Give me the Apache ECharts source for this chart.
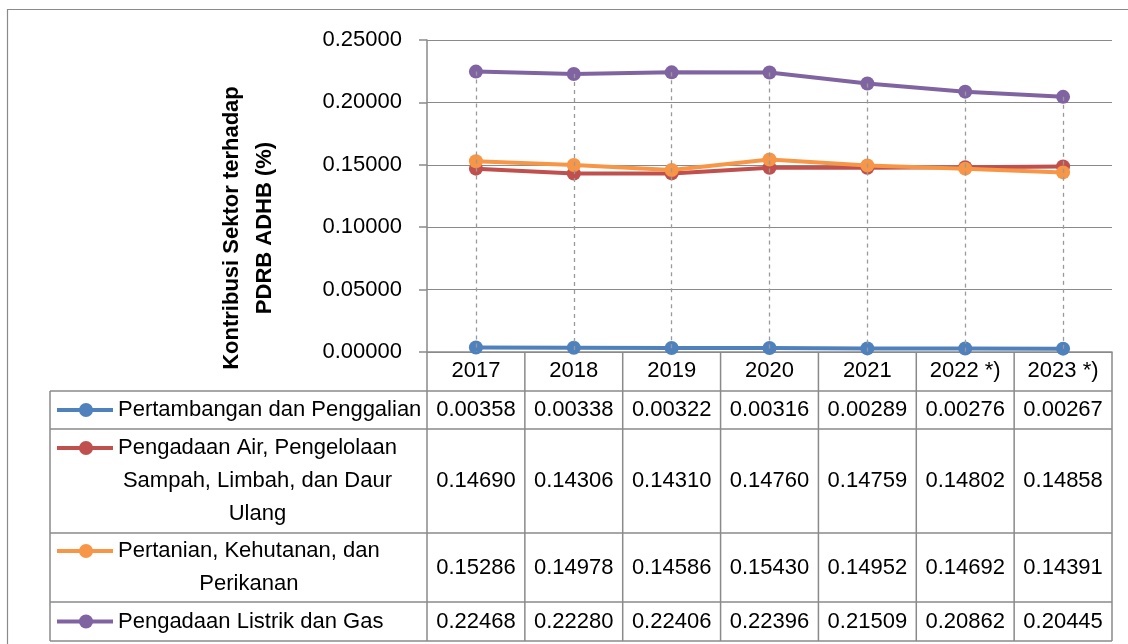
<!DOCTYPE html>
<html>
<head>
<meta charset="utf-8">
<script src="https://cdn.jsdelivr.net/npm/echarts@6/dist/echarts.min.js"></script>
<style>
html, body { margin: 0; padding: 0; background: #fff; }
#chart { width: 1128px; height: 644px; }
</style>
</head>
<body>
<div id="chart"></div>
<script>
// data
const years = ['2017', '2018', '2019', '2020', '2021', '2022 *)', '2023 *)'];
const names = [
    'Pertambangan dan Penggalian',
    'Pengadaan Air, Pengelolaan Sampah, Limbah, dan Daur Ulang',
    'Pertanian, Kehutanan, dan Perikanan',
    'Pengadaan Listrik dan Gas'
];
const legendLines = [
    'Pertambangan dan Penggalian',
    'Pengadaan Air, Pengelolaan\nSampah, Limbah, dan Daur\nUlang',
    'Pertanian, Kehutanan, dan\nPerikanan',
    'Pengadaan Listrik dan Gas'
];
const tambang = [0.00358, 0.00338, 0.00322, 0.00316, 0.00289, 0.00276, 0.00267];
const air = [0.14690, 0.14306, 0.14310, 0.14760, 0.14759, 0.14802, 0.14858];
const tani = [0.15286, 0.14978, 0.14586, 0.15430, 0.14952, 0.14692, 0.14391];
const listrik = [0.22468, 0.22280, 0.22406, 0.22396, 0.21509, 0.20862, 0.20445];
const colors = ['#4F81BD', '#C0504D', '#F79646', '#8064A2'];
const yTitle = 'Kontribusi Sektor terhadap\nPDRB ADHB (%)';

const FONT = "'Liberation Sans', Arial, sans-serif";
const FS = 22;
const GRAY = '#8a8a8a';
const allSeries = [tambang, air, tani, listrik];

const chart = echarts.init(document.getElementById('chart'));

// drop lines: from the highest point of each year down to zero
const dropLines = years.map(function (y, i) {
    const top = Math.max.apply(null, allSeries.map(function (s) { return s[i]; }));
    return [{ coord: [i, top] }, { coord: [i, 0] }];
});

const option = {
    animation: false,
    backgroundColor: '#fff',
    grid: { left: 427, right: 16, top: 40, bottom: 292 },
    xAxis: {
        type: 'category',
        data: years,
        boundaryGap: true,
        axisLine: { show: true, lineStyle: { color: GRAY, width: 1.5 } },
        axisTick: { show: false },
        axisLabel: {
            color: '#000', fontFamily: FONT, fontSize: FS,
            margin: 8, interval: 0
        }
    },
    yAxis: {
        type: 'value',
        min: 0, max: 0.25, interval: 0.05,
        axisLine: { show: true, lineStyle: { color: GRAY, width: 1.5 } },
        axisTick: { show: true, length: 8, inside: false, lineStyle: { color: GRAY, width: 1.5 } },
        splitLine: { show: true, lineStyle: { color: GRAY, width: 1.2 } },
        axisLabel: {
            color: '#000', fontFamily: FONT, fontSize: FS, margin: 25,
            formatter: function (v) { return v.toFixed(5); }
        }
    },
    series: allSeries.map(function (s, k) {
        const ser = {
            name: names[k],
            type: 'line',
            data: s,
            symbol: 'circle',
            symbolSize: 14,
            lineStyle: { color: colors[k], width: 4 },
            itemStyle: { color: colors[k] },
            z: 2 + k
        };
        if (k === 0) {
            ser.markLine = {
                silent: true,
                symbol: ['none', 'none'],
                label: { show: false },
                lineStyle: { color: '#9a9a9a', type: [4, 4], width: 1.3 },
                z: 10,
                data: dropLines
            };
        }
        return ser;
    })
};
chart.setOption(option);

// data table drawn under the plot, aligned to the category axis
function drawTable() {
    const xs = years.map(function (y, i) { return chart.convertToPixel({ xAxisIndex: 0 }, i); });
    const colW = xs[1] - xs[0];
    const left = xs[0] - colW / 2;
    const right = xs[xs.length - 1] + colW / 2;
    const axisY = chart.convertToPixel({ yAxisIndex: 0 }, 0);
    const rowEdges = [391, 429, 533, 602, 641];
    const tableLeft = 50;
    const lineH = 33;
    const els = [];
    const line = function (x1, y1, x2, y2) {
        els.push({
            type: 'line', silent: true, z: 5,
            shape: { x1: x1, y1: y1, x2: x2, y2: y2 },
            style: { stroke: GRAY, lineWidth: 1.5 }
        });
    };

    // outer chart border
    els.push({
        type: 'rect', silent: true,
        shape: { x: 7.5, y: 9.5, width: 1300, height: 800 },
        style: { fill: null, stroke: GRAY, lineWidth: 1.2 }
    });

    // vertical lines
    line(tableLeft, rowEdges[0], tableLeft, rowEdges[4]);
    for (let i = 0; i <= years.length; i++) {
        const x = left + i * colW;
        line(x, axisY, x, rowEdges[4]);
    }
    // horizontal lines
    rowEdges.forEach(function (y) { line(tableLeft, y, right, y); });

    const ctx = document.createElement('canvas').getContext('2d');
    ctx.font = FS + 'px ' + FONT;

    allSeries.forEach(function (s, k) {
        const cy = (rowEdges[k] + rowEdges[k + 1]) / 2;
        const lines = legendLines[k].split('\n');
        const firstY = cy - (lines.length - 1) * lineH / 2;
        // legend key
        els.push({
            type: 'line', silent: true, z: 6,
            shape: { x1: 57, y1: firstY, x2: 113, y2: firstY },
            style: { stroke: colors[k], lineWidth: 4 }
        });
        els.push({
            type: 'circle', silent: true, z: 7,
            shape: { cx: 86, cy: firstY, r: 7 },
            style: { fill: colors[k] }
        });
        // legend text
        const widest = Math.max.apply(null, lines.map(function (t) { return ctx.measureText(t).width; }));
        els.push({
            type: 'text', silent: true, z: 6,
            x: lines.length > 1 ? 118 + widest / 2 : 118,
            y: cy,
            style: {
                text: legendLines[k],
                fill: '#000', font: FS + 'px ' + FONT,
                lineHeight: lineH,
                align: lines.length > 1 ? 'center' : 'left',
                verticalAlign: 'middle'
            }
        });
        // values
        s.forEach(function (v, i) {
            els.push({
                type: 'text', silent: true, z: 6,
                x: xs[i], y: cy,
                style: {
                    text: v.toFixed(5),
                    fill: '#000', font: FS + 'px ' + FONT,
                    align: 'center', verticalAlign: 'middle'
                }
            });
        });
    });

    // y axis title
    els.push({
        type: 'text', silent: true,
        x: 248, y: 228, rotation: Math.PI / 2,
        style: {
            text: yTitle,
            fill: '#000', font: 'bold 22px ' + FONT,
            lineHeight: 33,
            align: 'center', verticalAlign: 'middle'
        }
    });

    chart.setOption({ graphic: { elements: els } });
}
drawTable();
</script>
</body>
</html>
